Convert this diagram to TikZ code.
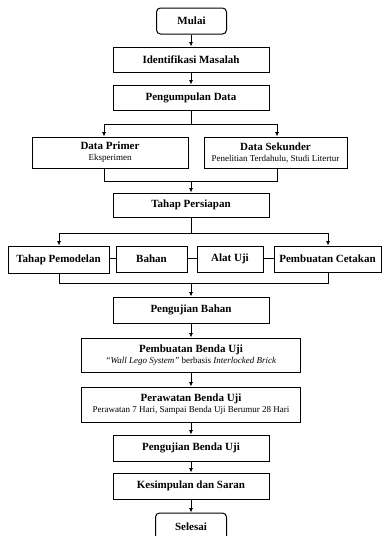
\documentclass[tikz,border=0pt]{standalone}
\usepackage{fontspec}
\setmainfont{Liberation Serif}
\usetikzlibrary{arrows.meta}
\tikzset{
  box/.style={draw, line width=1pt, inner sep=0pt, align=center, font=\fontsize{11}{12}\selectfont\bfseries},
  term/.style={box, rounded corners=4pt},
  conn/.style={line width=0.8pt},
  arr/.style={conn, -{Latex[length=4.5pt,width=4pt]}},
}
\newcommand{\subt}[1]{{\fontsize{9}{10}\selectfont\mdseries #1}}
\begin{document}
\begin{tikzpicture}[x=1pt,y=-1pt]
\useasboundingbox (0,0) rectangle (382,536);
\node[term, minimum width=70pt, minimum height=26pt] (mulai) at (191.5,21) {Mulai};
\node[box, minimum width=156pt, minimum height=25pt] (ident) at (191,59.5) {Identifikasi Masalah};
\node[box, minimum width=156pt, minimum height=25pt] (kumpul) at (191,97.5) {Pengumpulan Data};
\node[box, minimum width=156pt, minimum height=31pt] (primer) at (110,152.5) {Data Primer\\[-1pt]\subt{Eksperimen}};
\node[box, minimum width=143pt, minimum height=31pt] (sekunder) at (275.5,152.5) {Data Sekunder\\[-1pt]\subt{Penelitian Terdahulu, Studi Litertur}};
\node[box, minimum width=156pt, minimum height=24pt] (siap) at (191,205) {Tahap Persiapan};
\node[box, minimum width=101pt, minimum height=27pt] (model) at (58.5,259.5) {Tahap Pemodelan};
\node[box, minimum width=71pt, minimum height=26pt] (bahan) at (151.5,259) {Bahan};
\node[box, minimum width=66pt, minimum height=26pt] (alat) at (230,259) {Alat Uji};
\node[box, minimum width=107pt, minimum height=26pt] (cetak) at (327.5,259) {Pembuatan Cetakan};
\node[box, minimum width=156pt, minimum height=26pt] (ujibahan) at (191,310) {Pengujian Bahan};
\node[box, minimum width=219pt, minimum height=34pt] (benda) at (191,355) {Pembuatan Benda Uji\\[-1pt]\subt{\textit{\textquotedblleft Wall Lego System\textquotedblright} berbasis \textit{Interlocked Brick}}};
\node[box, minimum width=219pt, minimum height=35pt] (rawat) at (191,404.5) {Perawatan Benda Uji\\[-1pt]\subt{Perawatan 7 Hari, Sampai Benda Uji Berumur 28 Hari}};
\node[box, minimum width=156pt, minimum height=26pt] (ujibenda) at (191,448) {Pengujian Benda Uji};
\node[box, minimum width=156pt, minimum height=26pt] (simpul) at (191,486) {Kesimpulan dan Saran};
\node[term, minimum width=71pt, minimum height=27pt] (selesai) at (191,526.5) {Selesai};
% coordinates
\coordinate (s1) at (191,124);
\coordinate (pL) at (104,124);
\coordinate (pR) at (277,124);
\coordinate (m1) at (191,181);
\coordinate (mL) at (104,181);
\coordinate (mR) at (277,181);
\coordinate (s2) at (191,233);
\coordinate (qL) at (59,233);
\coordinate (qR) at (328,233);
\coordinate (m2) at (191,283);
\coordinate (nL) at (59,283);
\coordinate (nR) at (328,283);
% connectors
\draw[arr] (mulai.south -| ident.north) -- (ident.north);
\draw[arr] (ident) -- (kumpul);
\draw[conn] (kumpul.south) -- (s1);
\draw[conn] (pL) -- (pR);
\draw[arr] (pL) -- (pL |- primer.north);
\draw[arr] (pR) -- (pR |- sekunder.north);
\draw[conn] (pL |- primer.south) -- (mL) -- (mR) -- (pR |- sekunder.south);
\draw[arr] (m1) -- (siap.north);
\draw[conn] (siap.south) -- (s2);
\draw[conn] (qL) -- (qR);
\draw[arr] (qL) -- (qL |- model.north);
\draw[arr] (qR) -- (qR |- cetak.north);
\draw[conn] (model.east |- 0,258) -- (bahan.west |- 0,258);
\draw[conn] (bahan.east |- 0,258) -- (alat.west |- 0,258);
\draw[conn] (alat.east |- 0,258) -- (cetak.west |- 0,258);
\draw[conn] (qL |- model.south) -- (nL) -- (nR) -- (qR |- cetak.south);
\draw[arr] (m2) -- (ujibahan.north);
\draw[arr] (ujibahan) -- (benda);
\draw[arr] (benda) -- (rawat);
\draw[arr] (rawat) -- (ujibenda);
\draw[arr] (ujibenda) -- (simpul);
\draw[arr] (simpul) -- (selesai);
\end{tikzpicture}
\end{document}
